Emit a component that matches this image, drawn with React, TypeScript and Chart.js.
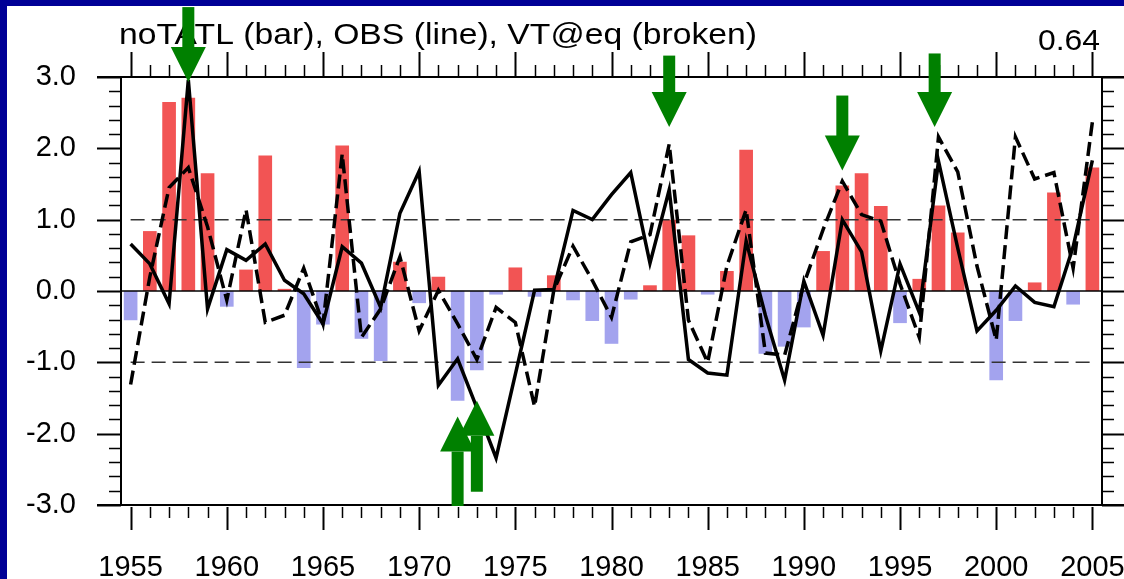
import React, { useEffect, useRef } from "react";
import { Chart, registerables } from "chart.js";

Chart.register(...registerables);

// ---------- data ----------
const YEARS = [
  1955, 1956, 1957, 1958, 1959, 1960, 1961, 1962, 1963, 1964,
  1965, 1966, 1967, 1968, 1969, 1970, 1971, 1972, 1973, 1974,
  1975, 1976, 1977, 1978, 1979, 1980, 1981, 1982, 1983, 1984,
  1985, 1986, 1987, 1988, 1989, 1990, 1991, 1992, 1993, 1994,
  1995, 1996, 1997, 1998, 1999, 2000, 2001, 2002, 2003, 2004,
  2005,
];

// noTATL (bar)
const NOTATL = [
  -0.41, 0.84, 2.65, 2.71, 1.65, -0.22, 0.30, 1.90, 0.03, -1.08,
  -0.47, 2.04, -0.67, -0.98, 0.41, -0.17, 0.20, -1.54, -1.11, -0.05,
  0.33, -0.08, 0.22, -0.13, -0.42, -0.74, -0.12, 0.08, 1.00, 0.78,
  -0.05, 0.28, 1.98, -0.88, -0.78, -0.51, 0.56, 1.48, 1.65, 1.19,
  -0.45, 0.17, 1.20, 0.82, 0.0, -1.25, -0.42, 0.12, 1.38, -0.19,
  1.73,
];

// OBS (solid line)
const OBS = [
  0.66, 0.38, -0.18, 2.96, -0.25, 0.58, 0.43, 0.66, 0.15, -0.04,
  -0.46, 0.62, 0.39, -0.23, 1.09, 1.68, -1.32, -0.95, -1.64, -2.34,
  -1.17, 0.01, 0.02, 1.13, 1.00, 1.35, 1.66, 0.39, 1.42, -0.96,
  -1.15, -1.18, 0.70, -0.34, -1.25, 0.14, -0.62, 1.00, 0.55, -0.84,
  0.38, -0.30, 1.82, 0.60, -0.56, -0.27, 0.07, -0.16, -0.22, 0.62,
  1.83,
];

// VT@eq (broken line)
const VTEQ = [
  -1.31, 0.20, 1.45, 1.73, 0.90, -0.13, 1.14, -0.44, -0.34, 0.32,
  -0.46, 1.92, -0.65, -0.25, 0.48, -0.56, 0.01, -0.46, -0.96, -0.23,
  -0.44, -1.62, 0.01, 0.63, 0.15, -0.37, 0.69, 0.79, 2.06, -0.41,
  -1.00, 0.35, 1.14, -0.87, -0.90, 0.10, 0.86, 1.54, 1.07, 0.98,
  0.10, -0.65, 2.16, 1.67, 0.35, -0.69, 2.16, 1.57, 1.66, 0.32,
  2.37,
];

const X_TICKS = [1955, 1960, 1965, 1970, 1975, 1980, 1985, 1990, 1995, 2000, 2005];
const Y_TICKS = [-3, -2, -1, 0, 1, 2, 3];
const REF_LEVELS = [1, -1];

// green arrows: x position (year), tip value, tail value
const ARROW_X = [1958, 1983, 1992, 1996.8, 1972, 1973];
const ARROW_TIP = [2.93, 2.3, 1.69, 2.3, -1.76, -1.54];
const ARROW_TAIL = [3.98, 3.3, 2.74, 3.33, -3.0, -2.8];

const TITLE = "noTATL (bar), OBS (line), VT@eq (broken)";
const CORR = "0.64";

// ---------- styles ----------
const NAVY = "#000096";
const RED = "#F25454";
const BLUE = "#A3A3EE";
const GREEN = "#008000";
const FONT = '"Liberation Sans", Arial, Helvetica, sans-serif';

const decor = {
  id: "decor",
  beforeDraw(chart: any) {
    const { ctx, width, height } = chart;
    ctx.save();
    ctx.fillStyle = NAVY;
    ctx.fillRect(0, 0, width, height);
    ctx.fillStyle = "#ffffff";
    ctx.fillRect(7, 6, width - 7, height - 6);
    ctx.restore();
  },
  afterDraw(chart: any) {
    const { ctx, chartArea: ca, scales, width } = chart;
    const xs = scales.x;
    const ys = scales.y;
    ctx.save();
    ctx.strokeStyle = "#000";
    ctx.lineCap = "butt";

    // frame
    ctx.lineWidth = 2;
    ctx.beginPath();
    ctx.moveTo(ca.left - 24, ca.top);
    ctx.lineTo(width, ca.top);
    ctx.moveTo(ca.left - 24, ca.bottom);
    ctx.lineTo(width, ca.bottom);
    ctx.moveTo(ca.left, ca.top);
    ctx.lineTo(ca.left, ca.bottom);
    ctx.moveTo(ca.right, ca.top);
    ctx.lineTo(ca.right, ca.bottom);
    ctx.stroke();

    // x ticks (top outward, bottom outward)
    const x0 = X_TICKS[0];
    const x1 = X_TICKS[X_TICKS.length - 1];
    for (let yr = x0; yr <= x1; yr++) {
      const major = (yr - x0) % 5 === 0;
      const px = Math.round(xs.getPixelForValue(yr)) + 0.5;
      ctx.lineWidth = major ? 2 : 1.5;
      ctx.beginPath();
      ctx.moveTo(px, ca.top);
      ctx.lineTo(px, ca.top - (major ? 25 : 12));
      ctx.moveTo(px, ca.bottom + 2);
      ctx.lineTo(px, ca.bottom + (major ? 25 : 13));
      ctx.stroke();
    }

    // y ticks (left and right outward)
    const y0 = Y_TICKS[0];
    const y1 = Y_TICKS[Y_TICKS.length - 1];
    const steps = Math.round((y1 - y0) / 0.2);
    for (let i = 0; i <= steps; i++) {
      const v = y0 + i * 0.2;
      const major = i % 5 === 0;
      const py = Math.round(ys.getPixelForValue(v)) + 0.5;
      ctx.lineWidth = major ? 2 : 1.5;
      ctx.beginPath();
      ctx.moveTo(ca.left, py);
      ctx.lineTo(ca.left - (major ? 24 : 12), py);
      ctx.moveTo(ca.right, py);
      ctx.lineTo(ca.right + (major ? 24 : 12), py);
      ctx.stroke();
    }

    // title texts
    ctx.fillStyle = "#000";
    ctx.textBaseline = "alphabetic";
    ctx.textAlign = "left";
    ctx.font = `29px ${FONT}`;
    const tw = ctx.measureText(TITLE).width;
    ctx.save();
    ctx.translate(119, 44);
    ctx.scale(638 / tw, 1);
    ctx.fillText(TITLE, 0, 0);
    ctx.restore();

    ctx.font = `30px ${FONT}`;
    const cw = ctx.measureText(CORR).width;
    ctx.save();
    ctx.translate(1100, 50);
    ctx.scale(62 / cw, 1);
    ctx.textAlign = "right";
    ctx.fillText(CORR, 0, 0);
    ctx.restore();

    // arrows
    const SHAFT = 12;
    const HEAD_W = 35;
    const HEAD_L = 35;
    ctx.fillStyle = GREEN;
    for (let i = 0; i < ARROW_X.length; i++) {
      const px = xs.getPixelForValue(ARROW_X[i]);
      const tip = ys.getPixelForValue(ARROW_TIP[i]);
      const tail = ys.getPixelForValue(ARROW_TAIL[i]);
      const d = tip > tail ? 1 : -1;
      const base = tip - d * HEAD_L;
      ctx.fillRect(px - SHAFT / 2, Math.min(tail, base), SHAFT, Math.abs(base - tail) + 1);
      ctx.beginPath();
      ctx.moveTo(px - HEAD_W / 2, base);
      ctx.lineTo(px + HEAD_W / 2, base);
      ctx.lineTo(px, tip);
      ctx.closePath();
      ctx.fill();
    }
    ctx.restore();
  },
};

export default function App() {
  const ref = useRef<HTMLCanvasElement>(null);

  useEffect(() => {
    const xMin = X_TICKS[0] - 0.5;
    const xMax = X_TICKS[X_TICKS.length - 1] + 0.5;

    const datasets: any[] = [
      {
        type: "line",
        label: "OBS",
        data: YEARS.map((x, i) => ({ x, y: OBS[i] })),
        borderColor: "#000",
        borderWidth: 3.5,
        pointRadius: 0,
        tension: 0,
        order: 0,
      },
      {
        type: "line",
        label: "VT@eq",
        data: YEARS.map((x, i) => ({ x, y: VTEQ[i] })),
        borderColor: "#000",
        borderWidth: 3.5,
        borderDash: [14, 6],
        pointRadius: 0,
        tension: 0,
        order: 1,
      },
      ...REF_LEVELS.map((lv) => ({
        type: "line",
        label: "ref" + lv,
        data: [
          { x: YEARS[0], y: lv },
          { x: YEARS[YEARS.length - 1], y: lv },
        ],
        borderColor: "#333",
        borderWidth: 1.5,
        borderDash: [14, 7],
        pointRadius: 0,
        order: 2,
      })),
      {
        type: "line",
        label: "zero",
        data: [
          { x: xMin, y: 0 },
          { x: xMax, y: 0 },
        ],
        borderColor: "#000",
        borderWidth: 1.5,
        pointRadius: 0,
        order: 2,
      },
      {
        type: "bar",
        label: "noTATL",
        data: YEARS.map((x, i) => ({ x, y: NOTATL[i] })),
        backgroundColor: (c: any) => (c.raw && c.raw.y >= 0 ? RED : BLUE),
        borderWidth: 0,
        categoryPercentage: 1,
        barPercentage: 0.71,
        order: 4,
      },
    ];

    const chart = new Chart(ref.current as HTMLCanvasElement, {
      type: "bar",
      data: { datasets },
      plugins: [decor],
      options: {
        responsive: false,
        animation: false,
        devicePixelRatio: 1,
        layout: { padding: { top: 77, right: 22, left: 0, bottom: 0 } },
        plugins: {
          legend: { display: false },
          title: { display: false },
          tooltip: { enabled: false },
        },
        scales: {
          x: {
            type: "linear",
            min: xMin,
            max: xMax,
            offset: false,
            grid: { display: false, drawTicks: false },
            border: { display: false },
            ticks: {
              color: "#000",
              font: { family: FONT, size: 29 },
              padding: 46,
              maxRotation: 0,
              autoSkip: false,
              callback: (v: any) => String(v),
            },
            afterBuildTicks: (s: any) => {
              s.ticks = X_TICKS.map((value) => ({ value }));
            },
            afterFit: (s: any) => {
              s.height = 74;
              s.paddingLeft = 0;
              s.paddingRight = 0;
            },
          },
          y: {
            type: "linear",
            min: Y_TICKS[0],
            max: Y_TICKS[Y_TICKS.length - 1],
            grid: { display: false, drawTicks: false },
            border: { display: false },
            ticks: {
              color: "#000",
              font: { family: FONT, size: 29 },
              padding: 45,
              autoSkip: false,
              callback: (v: any) => Number(v).toFixed(1),
            },
            afterBuildTicks: (s: any) => {
              s.ticks = Y_TICKS.map((value) => ({ value }));
            },
            afterFit: (s: any) => {
              s.width = 121;
              s.paddingTop = 0;
              s.paddingBottom = 0;
            },
          },
        },
      } as any,
    });
    return () => chart.destroy();
  }, []);

  return (
    <div style={{ position: "absolute", left: 0, top: 0, width: 1124, height: 579 }}>
      <canvas ref={ref} width={1124} height={579} style={{ display: "block" }} />
    </div>
  );
}
